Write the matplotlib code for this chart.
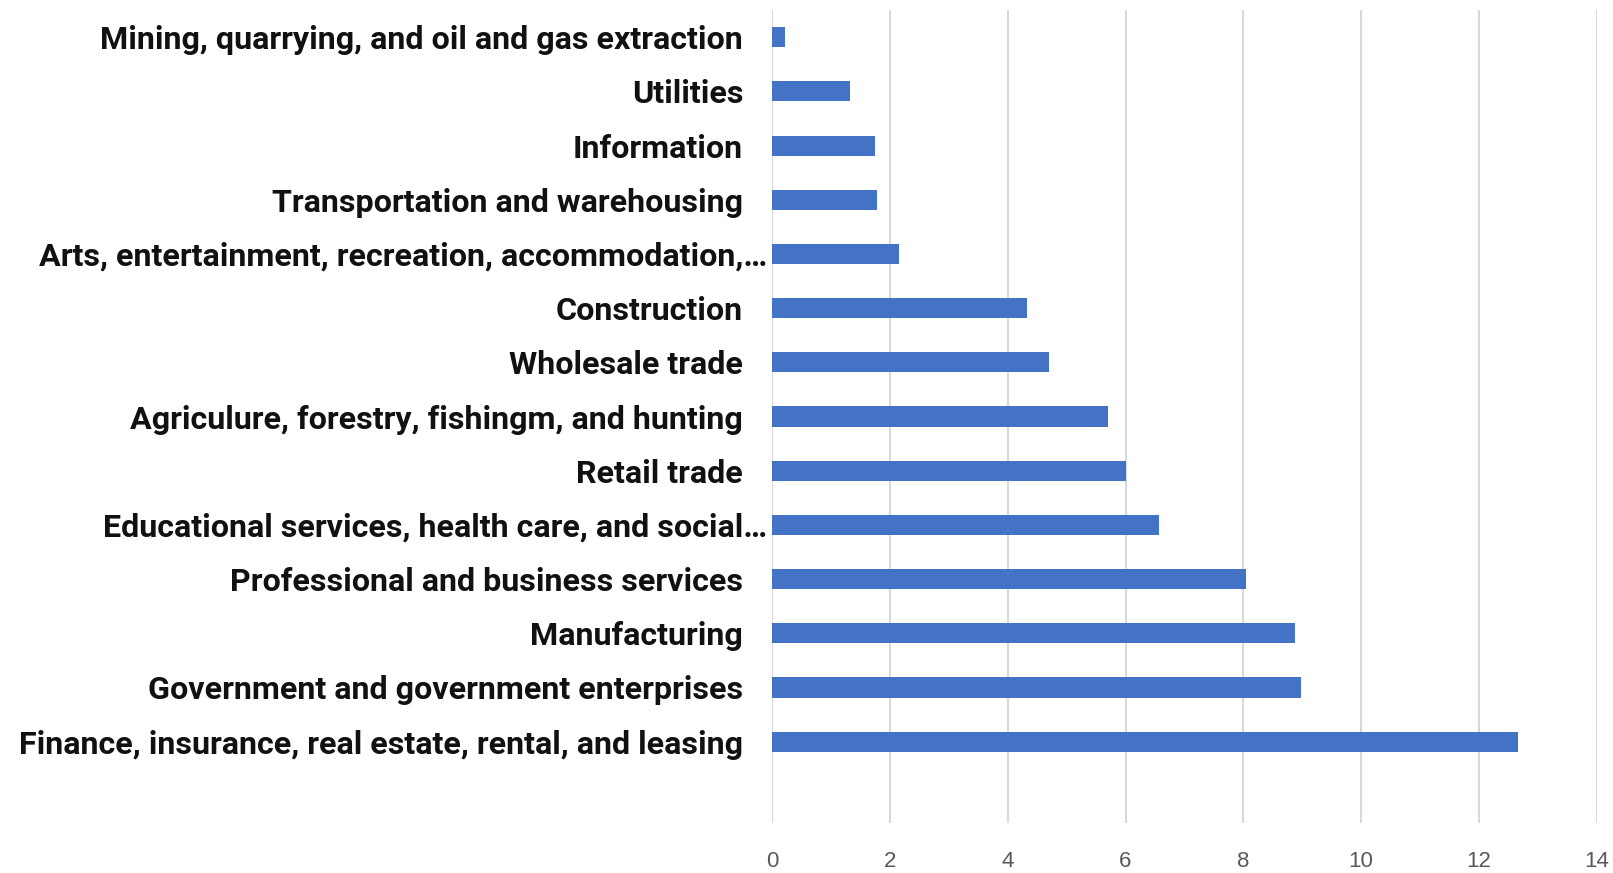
import matplotlib
matplotlib.use("Agg")
import matplotlib.pyplot as plt
import matplotlib.transforms as mtransforms

categories = [
    "Mining, quarrying, and oil and gas extraction",
    "Utilities",
    "Information",
    "Transportation and warehousing",
    "Arts, entertainment, recreation, accommodation,…",
    "Construction",
    "Wholesale trade",
    "Agriculure, forestry, fishingm, and hunting",
    "Retail trade",
    "Educational services, health care, and social…",
    "Professional and business services",
    "Manufacturing",
    "Government and government enterprises",
    "Finance, insurance, real estate, rental, and leasing",
]
values = [0.22, 1.32, 1.74, 1.77, 2.15, 4.32, 4.70, 5.70, 6.01, 6.56, 8.04, 8.88, 8.98, 12.67]
xticks = [0, 2, 4, 6, 8, 10, 12, 14]

fig = plt.figure(figsize=(16.13, 8.73), dpi=100)
ax = fig.add_axes([0.4788, 0.0573, 0.5110, 0.9312])

n = len(categories)
ypos = [n - i for i in range(n)]  # top = n, bottom filled = 1, slot 0 empty
ax.barh(ypos, values, height=0.37, color="#4472C4", zorder=3)
ax.set_ylim(-0.5, n + 0.5)
ax.set_xlim(0, 14)
ax.set_xticks(xticks)
ax.set_xticklabels([str(t) for t in xticks], color="#595959", fontsize=16,
                   family=["Liberation Sans", "DejaVu Sans"])
ax.set_yticks(ypos)
ax.set_yticklabels(categories, fontsize=23.2, fontweight="bold", color="#111111",
                   family=["Roboto", "DejaVu Sans"])
ax.tick_params(axis="both", length=0)
ax.tick_params(axis="y", pad=21)
ax.tick_params(axis="x", pad=20)
for s in ax.spines.values():
    s.set_visible(False)
ax.grid(axis="x", color="#D9D9D9", linewidth=1.5, zorder=0)
ax.set_axisbelow(True)

for lab in ax.get_yticklabels():
    if lab.get_text().endswith("…"):
        lab.set_transform(lab.get_transform() + mtransforms.ScaledTranslation(24 / 100, 0, fig.dpi_scale_trans))

fig.savefig("out.png", dpi=100)
